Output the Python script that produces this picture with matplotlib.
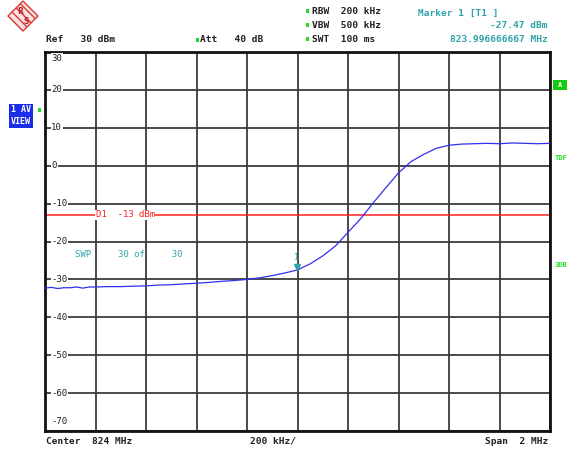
import matplotlib.pyplot as plt
from matplotlib.patches import Polygon, Rectangle

# trace data (MHz, dBm)
freq_mhz = [823.000, 823.025, 823.050, 823.075, 823.100, 823.125, 823.150, 823.175,
            823.200, 823.250, 823.300, 823.350, 823.400, 823.450, 823.500, 823.550,
            823.600, 823.650, 823.700, 823.750, 823.800, 823.850, 823.900, 823.950,
            824.000, 824.050, 824.100, 824.150, 824.200, 824.250, 824.300, 824.350,
            824.400, 824.450, 824.500, 824.550, 824.600, 824.650, 824.700, 824.750,
            824.800, 824.850, 824.900, 824.950, 825.000]
level_dbm = [-32.3, -32.1, -32.4, -32.2, -32.2, -32.0, -32.3, -32.0,
             -32.0, -31.9, -31.9, -31.8, -31.7, -31.5, -31.4, -31.2,
             -31.0, -30.8, -30.5, -30.3, -30.0, -29.6, -29.0, -28.3,
             -27.5, -25.9, -23.8, -21.2, -17.6, -14.0, -9.8, -5.8,
             -1.9, 1.1, 3.0, 4.6, 5.4, 5.7, 5.8, 5.9,
             5.8, 6.0, 5.9, 5.8, 5.9]
y_ticks = [30, 20, 10, 0, -10, -20, -30, -40, -50, -60, -70]
display_line = -13
marker_freq = 823.996666667
marker_level = -27.47

W, H = 570, 450
mono = 'DejaVu Sans Mono'
teal = '#2fa3a8'
green = '#22dd22'
dark = '#202020'


def px(x, y):
    return x / W, 1 - y / H


def dot(x, y):
    fig.patches.append(Rectangle(px(x - 1.5, y + 1.5), 3 / W, 3 / H,
                                 transform=fig.transFigure, fc=green, ec='none'))


fig = plt.figure(figsize=(W / 100, H / 100), dpi=100)
fig.patch.set_facecolor('white')
ax = fig.add_axes([45 / W, 1 - 431 / H, 505 / W, 379 / H])
ax.set_xlim(823, 825)
ax.set_ylim(-70, 30)
ax.set_xticks([823 + 0.2 * i for i in range(11)])
ax.set_yticks(y_ticks)
ax.tick_params(length=0, labelbottom=False, labelleft=False)
ax.grid(color='#3c3c3c', lw=1.3)
for s in ax.spines.values():
    s.set_linewidth(2)
    s.set_color('#111111')

# y labels drawn inside the grid
for v in y_ticks:
    yy = v
    if v == 30:
        yy = 28.4
    elif v == -70:
        yy = -67.4
    ax.text(823.025, yy, str(v), ha='left', va='center', fontsize=6.5, family=mono,
            color=dark, bbox=dict(fc='white', ec='none', pad=0.6), zorder=3)

# display line
ax.axhline(display_line, color='#ff2020', lw=1.1, zorder=2)
ax.text(823.2, display_line, 'D1  -13 dBm', ha='left', va='center', fontsize=6.5,
        family=mono, color='#ff2020', bbox=dict(fc='white', ec='none', pad=0.6), zorder=3)

# trace
ax.plot(freq_mhz, level_dbm, color='#3030f0', lw=0.9, zorder=4)

# marker
ax.plot([marker_freq], [marker_level + 0.8], marker='v', ms=4, color=teal, zorder=5)
ax.text(marker_freq, marker_level + 3.2, '1', ha='center', va='center', fontsize=6,
        family=mono, color=teal)
ax.text(823.12, -23.4, 'SWP     30 of     30', ha='left', va='center', fontsize=6.5,
        family=mono, color=teal)

# header
fig.text(*px(46, 40), 'Ref   30 dBm', fontsize=6.8, family=mono, weight='bold',
         color=dark, va='center')
fig.text(*px(200, 40), 'Att   40 dB', fontsize=6.8, family=mono, weight='bold',
         color=dark, va='center')
dot(197, 40)
for y, s in [(11, 'RBW  200 kHz'), (25, 'VBW  500 kHz'), (39, 'SWT  100 ms')]:
    fig.text(*px(312, y), s, fontsize=6.8, family=mono, weight='bold', color=dark,
             va='center')
    dot(307, y)
fig.text(*px(418, 13), 'Marker 1 [T1 ]', fontsize=6.8, family=mono, weight='bold',
         color=teal, va='center')
fig.text(*px(548, 26), '-27.47 dBm', fontsize=6.8, family=mono, weight='bold',
         color=teal, va='center', ha='right')
fig.text(*px(548, 39), '823.996666667 MHz', fontsize=6.8, family=mono, weight='bold',
         color=teal, va='center', ha='right')

# footer
fig.text(*px(46, 441), 'Center  824 MHz', fontsize=6.8, family=mono, weight='bold',
         color=dark, va='center')
fig.text(*px(273, 441), '200 kHz/', fontsize=6.8, family=mono, weight='bold',
         color=dark, va='center', ha='center')
fig.text(*px(548, 441), 'Span  2 MHz', fontsize=6.8, family=mono, weight='bold',
         color=dark, va='center', ha='right')

# left side boxes
fig.text(*px(11, 110), '1 AV', fontsize=6, family=mono, weight='bold', color='white',
         va='center', bbox=dict(fc='#1a2ee8', ec='none', pad=1.2))
fig.text(*px(11, 122), 'VIEW', fontsize=6, family=mono, weight='bold', color='white',
         va='center', bbox=dict(fc='#1a2ee8', ec='none', pad=1.2))
dot(39, 110)

# right side annotations
fig.patches.append(Rectangle(px(553, 90), 14 / W, 10 / H, transform=fig.transFigure,
                             fc='#11cc11', ec='none'))
fig.text(*px(560, 85), 'A', fontsize=5, family=mono, weight='bold', color='white',
         va='center', ha='center')
fig.text(*px(555, 158), 'TDF', fontsize=5, family=mono, weight='bold', color=green,
         va='center')
fig.text(*px(555, 265), '3DB', fontsize=5, family=mono, weight='bold', color=green,
         va='center')

# R&S logo
cx, cy, r = 23, 16, 15
logo = Polygon([px(cx, cy - r), px(cx + r, cy), px(cx, cy + r), px(cx - r, cy)],
               closed=True, transform=fig.transFigure, fc='#fbe3e3', ec='#d83a3a',
               lw=1.0, hatch='\\\\\\\\')
fig.patches.append(logo)
fig.text(*px(cx - 3, cy - 4), 'R', fontsize=5.5, color='#c02020', ha='center',
         va='center', weight='bold')
fig.text(*px(cx + 3, cy + 5), 'S', fontsize=5.5, color='#c02020', ha='center',
         va='center', weight='bold')

fig.savefig('out.png', dpi=100)
